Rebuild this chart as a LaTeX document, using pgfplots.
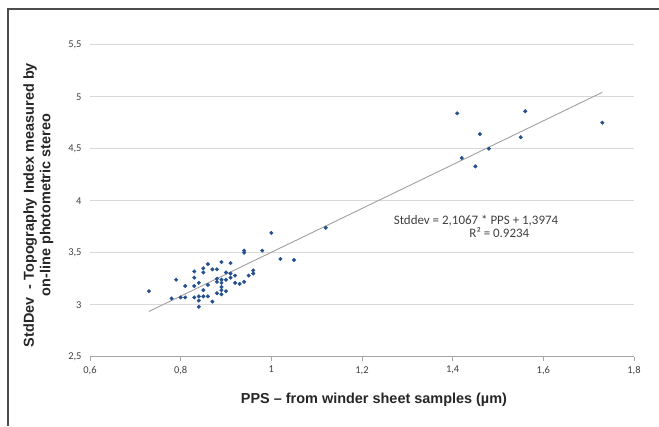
\documentclass[border=0pt]{standalone}
\usepackage{fontspec}
\setmainfont{Carlito}
\newfontfamily\arial{Liberation Sans}
\usepackage{pgfplots}
\pgfplotsset{compat=1.18}
\definecolor{dotblue}{HTML}{24508F}
\definecolor{gridgray}{HTML}{D9D9D9}
\definecolor{axisgray}{HTML}{A6A6A6}
\definecolor{trendgray}{HTML}{A0A0A0}
\definecolor{txtgray}{HTML}{404040}
\begin{document}
\begin{tikzpicture}[x=1bp,y=1bp]
\useasboundingbox (0,0) rectangle (659,426);
\draw[line width=1.5bp, color=black!70] (8,0) -- (8,417) -- (659,417);
\begin{axis}[
  at={(90bp,69.3bp)}, anchor=south west,
  scale only axis, width=544bp, height=312bp,
  xmin=0.6, xmax=1.8, ymin=2.5, ymax=5.5,
  xtick={0.6,0.8,1,1.2,1.4,1.6,1.8},
  ytick={2.5,3,3.5,4,4.5,5,5.5},
  axis x line*=bottom, axis y line*=left,
  x axis line style={-, draw=axisgray, line width=1bp},
  y axis line style={draw=none},
  ytick style={draw=none},
  xtick style={draw=axisgray, line width=0.8bp},
  xtick align=outside, major tick length=4bp,
  ymajorgrids, grid style={draw=gridgray, line width=0.8bp},
  tick label style={font=\fontsize{10.5}{12}\selectfont, text=txtgray},
  xticklabel style={yshift=-2bp},
  yticklabel style={xshift=-5bp},
  /pgf/number format/assume math mode=true,
  /pgf/number format/use comma,
  xlabel={PPS – from winder sheet samples (µm)},
  ylabel={StdDev\ \ - Topography Index measured by\\on-line photometric stereo},
  xlabel style={font=\arial\bfseries\fontsize{14.5}{16}\selectfont, text=black!85,
    at={(axis description cs:0.522,0)}, anchor=center, yshift=-43bp},
  ylabel style={font=\arial\bfseries\fontsize{14.5}{16.5}\selectfont, text=black!85,
    align=center, at={(axis description cs:-0.095,0.486)}, anchor=center, rotate=0},
  clip=false,
]
\addplot[only marks, mark=*, mark size=1.8bp, color=dotblue] coordinates {
(0.73,3.13) (0.78,3.06) (0.79,3.24) (0.80,3.07) (0.81,3.07) (0.81,3.18)
(0.83,3.32) (0.83,3.26) (0.83,3.18) (0.83,3.07) (0.84,3.21) (0.84,3.08)
(0.84,3.04) (0.84,2.98) (0.85,3.35) (0.85,3.31) (0.85,3.14) (0.85,3.08)
(0.86,3.39) (0.86,3.19) (0.86,3.08) (0.87,3.34) (0.87,3.03) (0.88,3.34)
(0.88,3.25) (0.88,3.11) (0.88,3.22) (0.89,3.41) (0.89,3.24) (0.89,3.21)
(0.89,3.17) (0.89,3.14) (0.89,3.10) (0.90,3.31) (0.90,3.24) (0.90,3.13)
(0.91,3.40) (0.91,3.30) (0.91,3.26) (0.92,3.28) (0.92,3.21) (0.93,3.20)
(0.94,3.22) (0.94,3.52) (0.94,3.50) (0.95,3.28) (0.96,3.33) (0.96,3.30)
(0.98,3.52) (1.00,3.69) (1.02,3.44) (1.05,3.43) (1.12,3.74)
(1.41,4.84) (1.42,4.41) (1.45,4.33) (1.46,4.64) (1.48,4.50) (1.55,4.61)
(1.56,4.86) (1.73,4.75)
};
\addplot[no marks, color=trendgray, line width=0.9bp] coordinates {(0.73,2.935) (1.73,5.042)};
\node[anchor=base, inner sep=0pt, font=\fontsize{13}{14}\selectfont, text=txtgray] at (axis cs:1.4515,3.775) {Stddev = 2,1067 * PPS + 1,3974};
\node[anchor=base, inner sep=0pt, font=\fontsize{13}{14}\selectfont, text=txtgray] at (axis cs:1.503,3.645) {R² = 0.9234};
\end{axis}
\end{tikzpicture}
\end{document}
